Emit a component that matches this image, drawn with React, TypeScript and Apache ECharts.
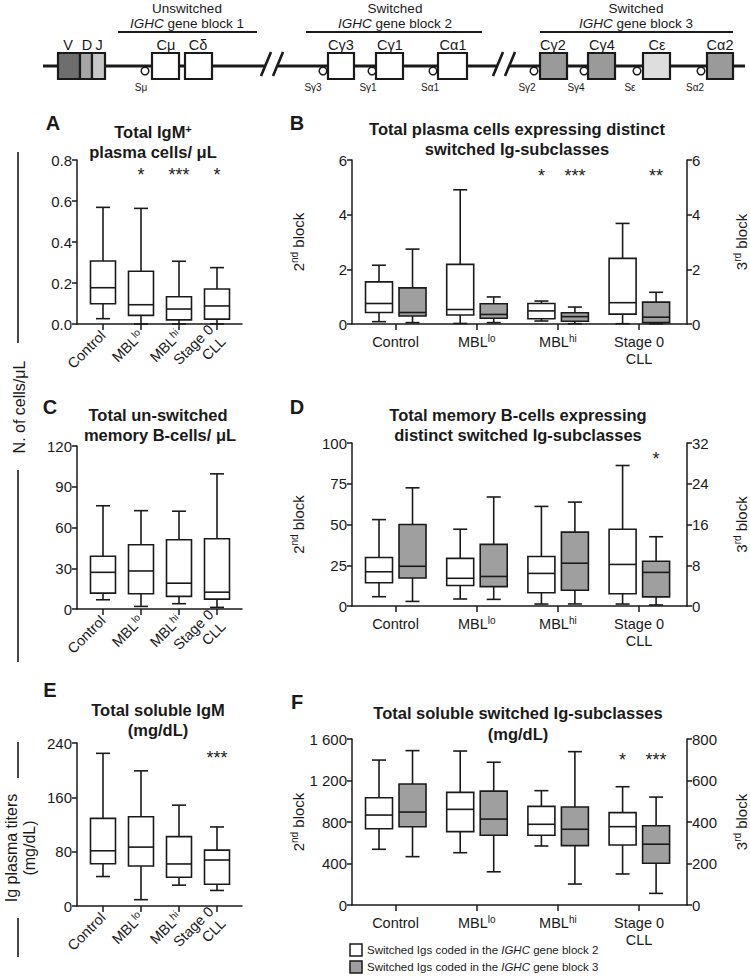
import React, { useEffect, useRef } from "react";
import * as echarts from "echarts";

const FONT = "'Liberation Sans', Arial, Helvetica, sans-serif";
const INK = "#1a1a1a";
const BOX_GRAY = "#9f9f9f";

// ---------- categories ----------
const groupLabels = ["Control", "MBL{sup|lo}", "MBL{sup|hi}", "Stage 0\nCLL"];
const groupPos = [1, 2, 3, 4];

// ---------- data: [min, Q1, median, Q3, max] ----------
// A: Total IgM+ plasma cells/uL
const igmPlasmaCells = [
  [0.026, 0.099, 0.177, 0.307, 0.569],
  [0.0, 0.042, 0.094, 0.257, 0.564],
  [0.0, 0.02, 0.073, 0.133, 0.306],
  [0.0, 0.024, 0.088, 0.171, 0.275],
];
const igmPlasmaSig = ["", "*", "***", "*"];

// B: plasma cells, switched Ig subclasses
const plasmaBlock2 = [
  [0.085, 0.42, 0.75, 1.54, 2.15],
  [0.02, 0.33, 0.53, 2.18, 4.91],
  [0.11, 0.19, 0.48, 0.75, 0.84],
  [0.01, 0.36, 0.78, 2.4, 3.68],
];
const plasmaBlock3 = [
  [0.05, 0.29, 0.42, 1.32, 2.74],
  [0.05, 0.21, 0.35, 0.74, 0.99],
  [0.01, 0.1, 0.27, 0.41, 0.62],
  [0.01, 0.05, 0.25, 0.8, 1.16],
];
const plasmaBlock2Sig = ["", "", "*", ""];
const plasmaBlock3Sig = ["", "", "***", "**"];

// C: un-switched memory B-cells/uL
const unswitchedMemory = [
  [6.8, 11.7, 27, 38.8, 76],
  [1.9, 11.2, 28, 47.3, 72.4],
  [3.9, 9.3, 19, 51, 72],
  [1.2, 7.3, 12.4, 51.7, 99.5],
];

// D: memory B-cells, switched Ig subclasses
const memoryBlock2 = [
  [5.7, 14.3, 21, 29.8, 53],
  [4.3, 12.6, 17, 29.2, 47.1],
  [1.2, 8.1, 20, 30.4, 61.1],
  [1.2, 7.5, 25.5, 47.1, 86.2],
];
const memoryBlock3 = [
  [0.9, 5.5, 7.8, 16.0, 23.2],
  [1.3, 3.8, 5.8, 12.1, 21.4],
  [0.4, 3.1, 8.4, 14.5, 20.4],
  [0.2, 1.8, 6.6, 8.8, 13.6],
];
const memoryBlock3Sig = ["", "", "", "*"];

// E: soluble IgM (mg/dL)
const solubleIgM = [
  [43.4, 62.3, 81.3, 129, 224.8],
  [9.3, 59, 86.7, 131.4, 199],
  [30.7, 42.3, 61.9, 102.2, 148.5],
  [22.9, 32.1, 67.7, 82.3, 116.4],
];
const solubleIgMSig = ["", "", "", "***"];

// F: soluble switched Ig subclasses (mg/dL)
const solubleBlock2 = [
  [537, 735, 867, 1034, 1397],
  [504, 707, 922, 1086, 1484],
  [569, 672, 778, 951, 1102],
  [299, 578, 755, 890, 1140],
];
const solubleBlock3 = [
  [233, 377, 448, 583, 744],
  [160, 336, 414, 549, 688],
  [101, 286, 365, 472, 739],
  [56, 201, 293, 382, 520],
];
const solubleBlock2Sig = ["", "", "", "*"];
const solubleBlock3Sig = ["", "", "", "***"];

// ---------- axis ranges ----------
const yA = { max: 0.8, interval: 0.2 };
const yB = { max: 6, interval: 2 };
const yC = { max: 120, interval: 30 };
const yDLeft = { max: 100, interval: 25 };
const yDRight = { max: 32, interval: 8 };
const yE = { max: 240, interval: 80 };
const yFLeft = { max: 1600, interval: 400 };
const yFRight = { max: 800, interval: 200 };

// significance marker heights (in each series' own units)
const starA = 0.741, starB = 5.52, starD3 = 29.45, starE = 222.3, starF2 = 1426, starF3 = 713;

const withPos = (rows: number[][]) => rows.map((r, i) => [groupPos[i], ...r]);

const axisLine = { color: INK, width: 1.5 };

function makeRenderer(dx: number, boxW: number, fill: string, sig: string[], starValue: number) {
  const CAP = 14;
  return (params: any, api: any) => {
    const x = api.value(0);
    const vals = [1, 2, 3, 4, 5].map((i) => api.value(i));
    const cx = api.coord([x, vals[0]])[0] + dx;
    const ys = vals.map((v: number) => api.coord([x, v])[1]);
    const [yLo, yQ1, yMed, yQ3, yHi] = ys;
    const ln = (x1: number, y1: number, x2: number, y2: number) => ({
      type: "line",
      shape: { x1, y1, x2, y2 },
      style: { stroke: INK, lineWidth: 1.6 },
    });
    const children: any[] = [
      ln(cx, yQ3, cx, yHi),
      ln(cx - CAP / 2, yHi, cx + CAP / 2, yHi),
      ln(cx, yQ1, cx, yLo),
      ln(cx - CAP / 2, yLo, cx + CAP / 2, yLo),
      {
        type: "rect",
        shape: { x: cx - boxW / 2, y: yQ3, width: boxW, height: yQ1 - yQ3 },
        style: { fill, stroke: INK, lineWidth: 1.6 },
      },
      ln(cx - boxW / 2, yMed, cx + boxW / 2, yMed),
    ];
    const s = sig[params.dataIndex];
    if (s) {
      children.push({
        type: "text",
        x: cx,
        y: api.coord([x, starValue])[1] + 3,
        style: {
          text: s, fontSize: 18, fontFamily: FONT, fill: INK,
          align: "center", verticalAlign: "middle", textAlign: "center", textVerticalAlign: "middle",
        },
      });
    }
    return { type: "group", children };
  };
}

const labelRich = {
  sup: { fontSize: 10, lineHeight: 6, verticalAlign: "top", fontFamily: FONT, color: INK },
};

function xAxis(gridIndex: number, wide: boolean) {
  return {
    type: "value",
    gridIndex,
    min: wide ? 0.464 : 0.316,
    max: wide ? 4.59 : 4.658,
    splitLine: { show: false },
    axisLine: { show: true, onZero: false, lineStyle: axisLine },
    axisTick: { show: true, customValues: groupPos, length: 6, lineStyle: axisLine },
    axisLabel: {
      show: true,
      customValues: groupPos,
      formatter: (v: number) => groupLabels[Math.round(v) - 1] ?? "",
      rotate: wide ? 0 : 45,
      margin: wide ? 9 : 9,
      fontSize: 14.5,
      lineHeight: 17,
      color: INK,
      fontFamily: FONT,
      rich: labelRich,
    },
  };
}

const nameRich = {
  n: { fontSize: 15, lineHeight: 18, fontFamily: FONT, color: INK },
  s: { fontSize: 10, lineHeight: 7, verticalAlign: "top", fontFamily: FONT, color: INK },
};

function yAxis(gridIndex: number, r: { max: number; interval: number }, opts: any = {}) {
  return {
    type: "value",
    gridIndex,
    min: 0,
    max: r.max,
    interval: r.interval,
    position: opts.position || "left",
    splitLine: { show: false },
    axisLine: { show: true, onZero: false, lineStyle: axisLine },
    axisTick: { show: true, length: 5, lineStyle: axisLine },
    axisLabel: {
      fontSize: 15, color: INK, fontFamily: FONT, margin: 5,
      formatter: opts.formatter || ((v: number) => String(v)),
    },
    name: opts.name || "",
    nameLocation: "middle",
    nameRotate: 90,
    nameGap: 45,
    nameTextStyle: { fontSize: 15, color: INK, fontFamily: FONT, rich: nameRich },
  };
}

const thousands = (v: number) =>
  v >= 1000 ? `${Math.floor(v / 1000)} ${String(v % 1000).padStart(3, "0")}` : String(v);

function boxSeries(xi: number, yi: number, rows: number[][], dx: number, w: number, fill: string, sig: string[], star: number) {
  return {
    type: "custom",
    coordinateSystem: "cartesian2d",
    xAxisIndex: xi,
    yAxisIndex: yi,
    data: withPos(rows),
    encode: { x: 0, y: [1, 2, 3, 4, 5] },
    renderItem: makeRenderer(dx, w, fill, sig, star),
    silent: true,
    clip: false,
  };
}

// ---------- decorative graphics ----------
const txt = (x: number, y: number, text: string, size: number, extra: any = {}) => ({
  type: "text",
  x, y,
  rotation: extra.rotation || 0,
  style: {
    text, fontSize: size, fontFamily: FONT, fill: INK,
    fontWeight: extra.bold ? "bold" : "normal",
    align: extra.align || "center", textAlign: extra.align || "center",
    verticalAlign: "middle", textVerticalAlign: "middle",
    rich: extra.rich,
  },
});
const seg = (x1: number, y1: number, x2: number, y2: number, w = 1.5) => ({
  type: "line", shape: { x1, y1, x2, y2 }, style: { stroke: INK, lineWidth: w },
});
const box = (x: number, y: number, w: number, h: number, fill: string, lw = 2.2) => ({
  type: "rect", shape: { x, y, width: w, height: h }, style: { fill, stroke: INK, lineWidth: lw },
});
const sw = (x: number) => ({ type: "circle", shape: { cx: x, cy: 71, r: 3.8 }, style: { fill: "#fff", stroke: INK, lineWidth: 1.5 } });

const ital = { i: { fontStyle: "italic", fontSize: 13.5, fontFamily: FONT } };
const titleSup = { sup: { fontSize: 11, lineHeight: 8, verticalAlign: "top", fontWeight: "bold", fontFamily: FONT } };

const geneGraphics: any[] = [
  txt(187, 8, "Unswitched", 13.5),
  txt(187, 23, "{i|IGHC} gene block 1", 13.5, { rich: ital }),
  seg(118, 32, 257, 32, 2),
  txt(395, 8, "Switched", 13.5),
  txt(395, 23, "{i|IGHC} gene block 2", 13.5, { rich: ital }),
  seg(306, 32, 482, 32, 2),
  txt(636, 8, "Switched", 13.5),
  txt(636, 23, "{i|IGHC} gene block 3", 13.5, { rich: ital }),
  seg(540, 32, 733, 32, 2),
  seg(43, 66, 265, 66, 3),
  seg(278, 66, 498, 66, 3),
  seg(510, 66, 745, 66, 3),
  seg(261, 76, 271, 52, 2.6),
  seg(273, 76, 283, 52, 2.6),
  seg(493, 76, 503, 52, 2.6),
  seg(505, 76, 515, 52, 2.6),
  box(58, 53, 22, 26, "#6e6e6e"),
  box(80, 53, 12, 26, "#a6a6a6"),
  box(92, 53, 13, 26, "#c8c8c8"),
  box(152, 53, 27, 26, "#ffffff"),
  box(185, 53, 27, 26, "#ffffff"),
  box(328, 53, 26, 26, "#ffffff"),
  box(376, 53, 27, 26, "#ffffff"),
  box(438, 53, 29, 26, "#ffffff"),
  box(540, 53, 27, 26, "#9a9a9a"),
  box(588, 53, 27, 26, "#9a9a9a"),
  box(643, 53, 27, 26, "#dedede"),
  box(707, 53, 26, 26, "#9a9a9a"),
  sw(145), sw(323), sw(372), sw(433), sw(534), sw(584), sw(637), sw(701),
  txt(68, 45, "V", 14.5), txt(87, 45, "D", 14.5), txt(99, 45, "J", 14.5),
  txt(166, 45, "Cμ", 14.5), txt(198, 45, "Cδ", 14.5),
  txt(341, 45, "Cγ3", 14.5), txt(390, 45, "Cγ1", 14.5), txt(453, 45, "Cα1", 14.5),
  txt(553, 45, "Cγ2", 14.5), txt(602, 45, "Cγ4", 14.5), txt(657, 45, "Cε", 14.5), txt(720, 45, "Cα2", 14.5),
  txt(141, 87, "Sμ", 10), txt(313, 87, "Sγ3", 10), txt(368, 87, "Sγ1", 10), txt(430, 87, "Sα1", 10),
  txt(527, 87, "Sγ2", 10), txt(576, 87, "Sγ4", 10), txt(630, 87, "Sε", 10), txt(695, 87, "Sα2", 10),
];

const panelGraphics: any[] = [
  txt(53, 123, "A", 20, { bold: true }),
  txt(153, 132, "Total IgM{sup|+}", 16.5, { bold: true, rich: titleSup }),
  txt(153, 152, "plasma cells/ μL", 16.5, { bold: true }),
  txt(297, 123, "B", 20, { bold: true }),
  txt(517, 129, "Total plasma cells expressing distinct", 16.5, { bold: true }),
  txt(517, 149, "switched Ig-subclasses", 16.5, { bold: true }),
  txt(50, 407, "C", 20, { bold: true }),
  txt(158, 415, "Total un-switched", 16.5, { bold: true }),
  txt(160, 435, "memory B-cells/ μL", 16.5, { bold: true }),
  txt(297, 407, "D", 20, { bold: true }),
  txt(518, 415, "Total memory B-cells expressing", 16.5, { bold: true }),
  txt(518, 435, "distinct switched Ig-subclasses", 16.5, { bold: true }),
  txt(50, 690, "E", 20, { bold: true }),
  txt(158, 710, "Total soluble IgM", 16.5, { bold: true }),
  txt(158, 730, "(mg/dL)", 16.5, { bold: true }),
  txt(297, 702, "F", 20, { bold: true }),
  txt(518, 713, "Total soluble switched Ig-subclasses", 16.5, { bold: true }),
  txt(518, 734, "(mg/dL)", 16.5, { bold: true }),
  // side labels
  seg(18, 152, 18, 343, 1.6),
  seg(18, 470, 18, 662, 1.6),
  txt(19, 407, "N. of cells/μL", 16, { rotation: Math.PI / 2 }),
  seg(18, 742, 18, 778, 1.6),
  seg(18, 918, 18, 957, 1.6),
  txt(11, 848, "Ig plasma titers", 16, { rotation: Math.PI / 2 }),
  txt(29, 848, "(mg/dL)", 16, { rotation: Math.PI / 2 }),
  // legend
  box(350, 944, 12, 12, "#ffffff", 1.5),
  box(350, 961, 12, 12, BOX_GRAY, 1.5),
  txt(367, 950, "Switched Igs coded in the {it|IGHC} gene block 2", 11.5, {
    align: "left", rich: { it: { fontStyle: "italic", fontSize: 11.5, fontFamily: FONT } },
  }),
  txt(367, 967, "Switched Igs coded in the {it|IGHC} gene block 3", 11.5, {
    align: "left", rich: { it: { fontStyle: "italic", fontSize: 11.5, fontFamily: FONT } },
  }),
];

export default function App() {
  const ref = useRef<HTMLDivElement>(null);
  useEffect(() => {
    document.body.style.margin = "0";
    if (!ref.current) return;
    const chart = echarts.init(ref.current, undefined, { renderer: "svg" });
    const WHITE = "#ffffff";
    chart.setOption({
      animation: false,
      backgroundColor: "#ffffff",
      textStyle: { fontFamily: FONT },
      grid: [
        { left: 77, top: 160, width: 165, height: 164 },
        { left: 352, top: 160, width: 335, height: 164 },
        { left: 77, top: 446, width: 165, height: 163 },
        { left: 352, top: 443, width: 335, height: 163 },
        { left: 77, top: 743, width: 165, height: 163 },
        { left: 352, top: 739, width: 335, height: 166 },
      ],
      xAxis: [xAxis(0, false), xAxis(1, true), xAxis(2, false), xAxis(3, true), xAxis(4, false), xAxis(5, true)],
      yAxis: [
        yAxis(0, yA, { formatter: (v: number) => v.toFixed(1) }),
        yAxis(1, yB, { name: "{n|2}{s|nd}{n| block}" }),
        yAxis(1, yB, { position: "right", name: "{n|3}{s|rd}{n| block}" }),
        yAxis(2, yC),
        yAxis(3, yDLeft, { name: "{n|2}{s|nd}{n| block}" }),
        yAxis(3, yDRight, { position: "right", name: "{n|3}{s|rd}{n| block}" }),
        yAxis(4, yE),
        yAxis(5, yFLeft, { name: "{n|2}{s|nd}{n| block}", formatter: thousands }),
        yAxis(5, yFRight, { position: "right", name: "{n|3}{s|rd}{n| block}" }),
      ],
      series: [
        boxSeries(0, 0, igmPlasmaCells, 0, 25, WHITE, igmPlasmaSig, starA),
        boxSeries(1, 1, plasmaBlock2, -16.5, 27, WHITE, plasmaBlock2Sig, starB),
        boxSeries(1, 2, plasmaBlock3, 17, 27, BOX_GRAY, plasmaBlock3Sig, starB),
        boxSeries(2, 3, unswitchedMemory, 0, 25, WHITE, ["", "", "", ""], 0),
        boxSeries(3, 4, memoryBlock2, -16.5, 27, WHITE, ["", "", "", ""], 0),
        boxSeries(3, 5, memoryBlock3, 17, 27, BOX_GRAY, memoryBlock3Sig, starD3),
        boxSeries(4, 6, solubleIgM, 0, 25, WHITE, solubleIgMSig, starE),
        boxSeries(5, 7, solubleBlock2, -16.5, 27, WHITE, solubleBlock2Sig, starF2),
        boxSeries(5, 8, solubleBlock3, 17, 27, BOX_GRAY, solubleBlock3Sig, starF3),
      ],
      graphic: [...geneGraphics, ...panelGraphics],
    });
    return () => chart.dispose();
  }, []);
  return <div ref={ref} style={{ width: 750, height: 976 }} />;
}
